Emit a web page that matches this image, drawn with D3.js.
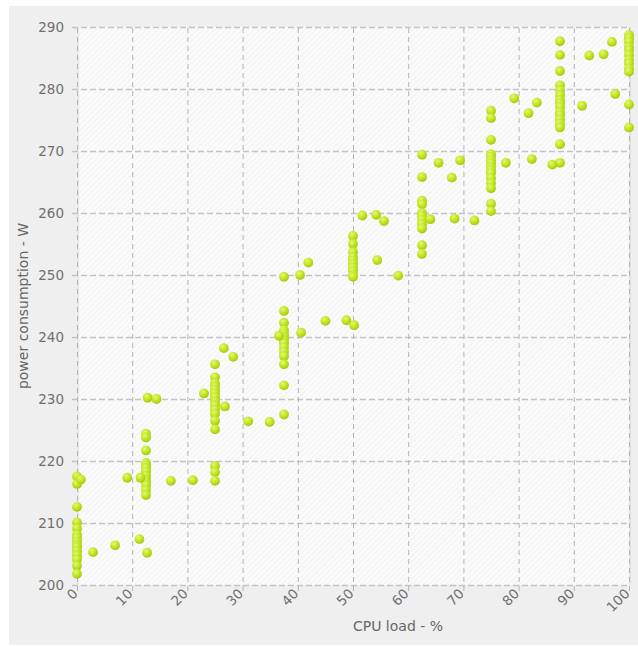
<!DOCTYPE html>
<html>
<head>
<meta charset="utf-8">
<script src="https://cdn.jsdelivr.net/npm/d3@7/dist/d3.min.js"></script>
<style>
  html, body { margin: 0; padding: 0; background: #ffffff; }
  svg { display: block; font-family: "DejaVu Sans", sans-serif; }
</style>
</head>
<body>
<svg id="chart" width="638" height="646"></svg>
<script>
// Server power draw measured at fixed CPU-load steps (12.5 % apart)
const stepLoads = [0, 12.5, 25, 37.5, 50, 62.5, 75, 87.5, 100];
const stepPower = [
  [217.5, 216.3, 212.6, 210.1, 209.1, 208.1, 207.6, 207.0, 206.5, 206.1, 205.5, 204.8, 204.1, 203.1, 201.8],
  [224.4, 223.8, 221.7, 219.7, 219.3, 218.9, 218.3, 217.6, 217.0, 216.6, 216.1, 215.3, 214.5],
  [235.6, 233.5, 232.5, 232.0, 231.5, 230.9, 230.3, 229.6, 229.0, 228.3, 227.6, 226.5, 225.1, 219.2, 218.2, 216.8],
  [249.7, 244.2, 242.3, 241.1, 240.5, 240.0, 239.5, 239.0, 238.3, 237.6, 236.9, 235.6, 232.2, 227.5],
  [256.3, 255.0, 253.7, 252.9, 252.3, 251.8, 251.2, 250.6, 250.0, 249.7],
  [269.4, 265.8, 262.0, 261.4, 260.0, 259.5, 258.9, 258.2, 257.5, 254.8, 253.4],
  [276.5, 275.3, 271.8, 269.5, 269.1, 268.5, 268.0, 267.4, 266.9, 266.4, 265.6, 264.8, 264.0, 261.5, 260.3],
  [287.7, 285.5, 282.9, 280.6, 279.8, 279.0, 278.2, 277.7, 277.1, 276.3, 275.8, 275.1, 274.4, 273.8, 271.1, 268.1],
  [288.7, 288.2, 287.6, 286.8, 286.3, 285.5, 284.7, 284.1, 283.3, 282.8, 277.5, 273.8]
];

// Samples taken while the load was ramping between steps
const rampLoad = [0.7, 2.9, 6.9, 9.1, 11.3, 11.5, 12.7, 12.8, 14.4, 17.0, 21.0, 23.0, 26.6, 26.8,
  28.3, 31.0, 34.9, 36.6, 40.4, 40.6, 41.9, 45.0, 48.8, 50.2, 51.7, 54.2, 54.4, 55.6, 58.2,
  64.0, 65.5, 67.9, 68.4, 69.4, 72.0, 77.7, 79.2, 81.8, 82.4, 83.3, 86.1, 91.5, 92.8, 95.4,
  96.9, 97.5];
const rampPower = [217.0, 205.3, 206.4, 217.3, 207.4, 217.3, 205.2, 230.2, 230.0, 216.8, 216.9, 230.9, 238.2, 228.8,
  236.8, 226.4, 226.3, 240.2, 250.0, 240.7, 252.0, 242.6, 242.7, 241.9, 259.6, 259.7, 252.4, 258.7, 249.9,
  259.0, 268.1, 265.7, 259.1, 268.5, 258.8, 268.1, 278.5, 276.1, 268.7, 277.8, 267.8, 277.3, 285.4, 285.6,
  287.6, 279.2];

const xTicks = [0, 10, 20, 30, 40, 50, 60, 70, 80, 90, 100];
const yTicks = [200, 210, 220, 230, 240, 250, 260, 270, 280, 290];
const xTitle = "CPU load - %";
const yTitle = "power consumption - W";

const samples = [];
stepLoads.forEach((load, i) => stepPower[i].forEach(p => samples.push({ load, power: p })));
rampLoad.forEach((load, i) => samples.push({ load, power: rampPower[i] }));

const svg = d3.select("#chart");
const plotLeft = 77, plotRight = 629, plotTop = 27, plotBottom = 585;

const x = d3.scaleLinear().domain([0, 100]).range([plotLeft, plotRight]);
const y = d3.scaleLinear().domain([200, 290]).range([plotBottom, plotTop]);

const defs = svg.append("defs");
const hatch = defs.append("pattern")
  .attr("id", "hatch").attr("patternUnits", "userSpaceOnUse")
  .attr("width", 4).attr("height", 4)
  .attr("patternTransform", "rotate(45)");
hatch.append("rect").attr("width", 4).attr("height", 4).attr("fill", "#fbfbfb");
hatch.append("line").attr("x1", 0).attr("y1", 0).attr("x2", 0).attr("y2", 4)
  .attr("stroke", "#ececec").attr("stroke-width", 1.2);

const grad = defs.append("radialGradient").attr("id", "dot")
  .attr("cx", "38%").attr("cy", "32%").attr("r", "70%");
grad.append("stop").attr("offset", "0%").attr("stop-color", "#e2f77a");
grad.append("stop").attr("offset", "50%").attr("stop-color", "#c4e824");
grad.append("stop").attr("offset", "100%").attr("stop-color", "#a2c80e");

// outer panel
svg.append("rect").attr("x", 9).attr("y", 6).attr("width", 629).attr("height", 639)
  .attr("fill", "#efefef");

// plot background
svg.append("rect").attr("x", plotLeft).attr("y", plotTop)
  .attr("width", plotRight - plotLeft + 1).attr("height", plotBottom - plotTop)
  .attr("fill", "url(#hatch)");
svg.append("line").attr("x1", plotLeft + 1).attr("x2", plotLeft + 1).attr("y1", plotTop).attr("y2", plotBottom)
  .attr("stroke", "#e6e6e6").attr("stroke-width", 2);
svg.append("line").attr("x1", plotRight + 1).attr("x2", plotRight + 1).attr("y1", plotTop).attr("y2", plotBottom)
  .attr("stroke", "#dcdcdc").attr("stroke-width", 1.5);

// y axis with horizontal grid
const yAxis = svg.append("g").attr("transform", `translate(${plotLeft},0)`)
  .call(d3.axisLeft(y).tickValues(yTicks).tickSize(-(plotRight - plotLeft)).tickPadding(13));
yAxis.select(".domain").remove();
yAxis.selectAll(".tick line")
  .attr("x1", -5)
  .attr("stroke", "#c4c4c4").attr("stroke-width", 1.6).attr("stroke-dasharray", "6,3");
yAxis.selectAll(".tick text")
  .attr("fill", "#707070").attr("font-size", 13.5).attr("font-family", "DejaVu Sans");

// x axis with vertical grid
const xAxis = svg.append("g").attr("transform", `translate(0,${plotBottom})`)
  .call(d3.axisBottom(x).tickValues(xTicks).tickSize(-(plotBottom - plotTop)));
xAxis.select(".domain").remove();
xAxis.selectAll(".tick line")
  .attr("y1", 6)
  .attr("stroke", "#b4b4b4").attr("stroke-width", 1).attr("stroke-dasharray", "5,4");
xAxis.selectAll(".tick text")
  .attr("fill", "#707070").attr("font-size", 13.5).attr("font-family", "DejaVu Sans")
  .attr("text-anchor", "end")
  .attr("x", 0).attr("y", 0).attr("dy", 0)
  .attr("transform", "translate(1,9.5) rotate(-45)");

// axis titles
svg.append("text")
  .attr("transform", `translate(28,${(plotTop + plotBottom) / 2}) rotate(-90)`)
  .attr("text-anchor", "middle").attr("fill", "#666").attr("font-size", 14)
  .text(yTitle);
svg.append("text")
  .attr("x", 398).attr("y", 631)
  .attr("text-anchor", "middle").attr("fill", "#666").attr("font-size", 14)
  .text(xTitle);

// samples
svg.append("g").selectAll("circle")
  .data(samples)
  .join("circle")
  .attr("cx", d => x(d.load))
  .attr("cy", d => y(d.power))
  .attr("r", 4.9)
  .attr("fill", "url(#dot)");
</script>
</body>
</html>
